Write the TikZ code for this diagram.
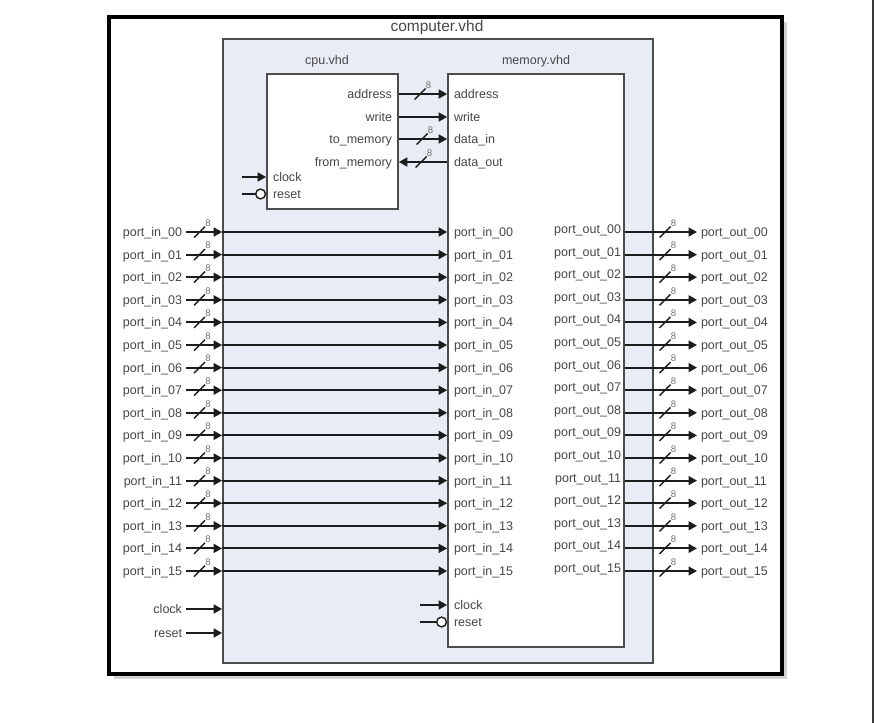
\documentclass[tikz,border=0pt]{standalone}
\usepackage{fontspec}
\setmainfont{Liberation Sans}
\usetikzlibrary{arrows.meta,calc,shadows}
\definecolor{cvink}{HTML}{1C1C1C}
\definecolor{cvtext}{HTML}{474747}
\definecolor{cvpage}{HTML}{FFFFFF}
\definecolor{cvtop}{HTML}{E8ECF5}
\definecolor{cvedge}{HTML}{4C4C4C}
\definecolor{cvfaint}{HTML}{707070}
\definecolor{cvrule}{HTML}{3A3A3A}
\tikzset{
  cvframe/.style={
    draw=black,
    line width=2.8pt,
    fill=cvpage,
    inner sep=0pt,
    minimum width=16.825cm,
    minimum height=16.425cm,
    drop shadow={shadow xshift=0.12cm, shadow yshift=-0.12cm, fill=black!30, opacity=0.6}
  },
  cvtopbox/.style={
    draw=cvedge,
    line width=1.2pt,
    fill=cvtop,
    inner sep=0pt
  },
  cvblock/.style={
    draw=cvedge,
    line width=1.2pt,
    fill=cvpage,
    inner sep=0pt
  },
  cvtitle/.style={
    font=\fontsize{8.9}{10}\selectfont,
    text=cvtext,
    inner sep=0pt
  },
  cvlabel/.style={
    font=\fontsize{8.9}{10}\selectfont,
    text=cvtext,
    inner sep=0pt,
    outer sep=0.1cm,
    text height=6.4pt,
    text depth=0pt
  },
  cvwire/.style={
    -{Triangle[length=2.1mm,width=2.2mm]},
    line width=1.3pt,
    color=cvink
  },
  cvnegate/.style={
    -{Circle[length=2.8mm,width=2.8mm,fill=cvpage,line width=1pt]},
    line width=1.3pt,
    color=cvink
  },
  cvslash/.style={
    line width=1pt,
    color=cvink
  },
  cvwidth/.style={
    font=\fontsize{6.8}{7}\selectfont,
    text=cvfaint,
    inner sep=0pt
  },
  cvbus/.pic={
    \draw[cvslash] (-5.5,5.5) -- (5.5,-5.5);
    \node[cvwidth] at (8.5,-9) {8};
  }
}
\begin{document}
\begin{tikzpicture}[x=0.025cm,y=-0.025cm]
  \useasboundingbox (0,0) rectangle (874,723);
  \draw[cvrule, line width=0.8pt] (873,0) -- (873,723);

  \node[cvframe] (frame) at (445.5,345.5) {};
  \node[cvtopbox, minimum width=10.75cm, minimum height=15.6cm] (computer) at (438,351) {};
  \node[cvtitle, font=\fontsize{11}{12}\selectfont] (computername) at (437,28) {computer.vhd};

  \node[cvblock, minimum width=3.275cm, minimum height=3.375cm] (cpu) at (332.5,141.5) {};
  \node[cvtitle] (cpuname) at (327,61) {cpu.vhd};
  \node[cvblock, minimum width=4.4cm, minimum height=14.325cm] (memory) at (536,360.5) {};
  \node[cvtitle] (memoryname) at (536,61) {memory.vhd};

  \node[cvlabel, anchor=east] (cpuaddr) at (396,94) {address};
  \node[cvlabel, anchor=east] (cpuwrite) at (396,117) {write};
  \node[cvlabel, anchor=east] (cputo) at (396,139) {to\_memory};
  \node[cvlabel, anchor=east] (cpufrom) at (396,162) {from\_memory};
  \node[cvlabel, anchor=west] (cpuclk) at (269,177) {clock};
  \node[cvlabel, anchor=west] (cpurst) at (269,194) {reset};

  \node[cvlabel, anchor=west] (memaddr) at (450,94) {address};
  \node[cvlabel, anchor=west] (memwrite) at (450,117) {write};
  \node[cvlabel, anchor=west] (memdin) at (450,139) {data\_in};
  \node[cvlabel, anchor=west] (memdout) at (450,162) {data\_out};
  \node[cvlabel, anchor=west] (memclk) at (450,605) {clock};
  \node[cvlabel, anchor=west] (memrst) at (450,622) {reset};

  \draw[cvwire] (cpu.east |- cpuaddr) -- (memory.west |- cpuaddr);
  \pic at (420,94) {cvbus};
  \draw[cvwire] (cpu.east |- cpuwrite) -- (memory.west |- cpuwrite);
  \draw[cvwire] (cpu.east |- cputo) -- (memory.west |- cputo);
  \pic at (422,139) {cvbus};
  \draw[cvwire] (memory.west |- cpufrom) -- (cpu.east |- cpufrom);
  \pic at (421,162) {cvbus};

  \coordinate (cpuclkin) at (242,177);
  \coordinate (cpurstin) at (242,194);
  \draw[cvwire] (cpuclkin) -- (cpuclkin -| cpu.west);
  \draw[cvnegate] (cpurstin) -- (cpurstin -| cpu.west);
  \coordinate (memclkin) at (420,605);
  \coordinate (memrstin) at (420,622);
  \draw[cvwire] (memclkin) -- (memclkin -| memory.west);
  \draw[cvnegate] (memrstin) -- (memrstin -| memory.west);

  \foreach \p [count=\k from 0] in {00,01,02,03,04,05,06,07,08,09,10,11,12,13,14,15}{
    \pgfmathsetmacro\py{232+22.6*\k}
    \node[cvlabel, anchor=east] (pin\p) at (186,\py) {port\_in\_\p};
    \node[cvlabel, anchor=west] (mpin\p) at (450,\py) {port\_in\_\p};
    \node[cvlabel, anchor=east] (mpout\p) at (625,\py-3) {port\_out\_\p};
    \node[cvlabel, anchor=west] (pout\p) at (697,\py) {port\_out\_\p};
    \draw[cvwire] (pin\p.east) -- (pin\p.east -| computer.west);
    \pic at (199.5,\py) {cvbus};
    \draw[cvwire] (pin\p.east -| computer.west) -- (mpin\p.west -| memory.west);
    \draw[cvwire] (memory.east |- pout\p.west) -- (pout\p.west);
    \pic at (665,\py) {cvbus};
  }

  \node[cvlabel, anchor=east] (clkin) at (186,609) {clock};
  \node[cvlabel, anchor=east] (rstin) at (186,633) {reset};
  \draw[cvwire] (clkin.east) -- (clkin.east -| computer.west);
  \draw[cvwire] (rstin.east) -- (rstin.east -| computer.west);
\end{tikzpicture}
\end{document}
